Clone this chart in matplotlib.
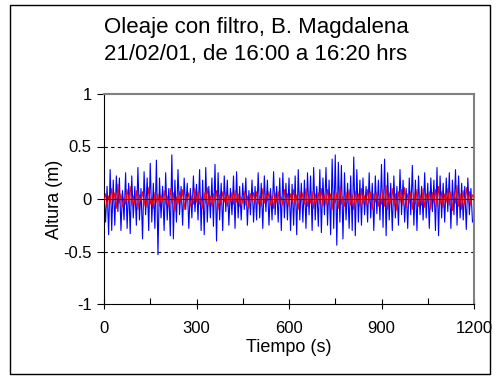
"""Oleaje con filtro, B. Magdalena - serie de tiempo de altura."""
import matplotlib
matplotlib.use("Agg")
import matplotlib.pyplot as plt
from matplotlib.patches import Rectangle
from matplotlib.ticker import MultipleLocator
import numpy as np

plt.rcParams["font.family"] = ["Liberation Sans", "DejaVu Sans"]

# tiempo de muestreo (s), cada 5 s
tiempo = np.arange(0, 1205, 5)

# altura sin filtro (m)
altura = [
    0.05, -0.22, 0.12, -0.34, 0.28, -0.30, 0.18, -0.25, 0.22, -0.12, 0.20, -0.30, 0.08, -0.20, 0.25, -0.28, 0.15, -0.33, 0.22, -0.18,
    0.12, -0.25, 0.30, -0.20, 0.10, -0.38, 0.26, -0.15, 0.20, -0.30, 0.34, -0.22, 0.15, -0.28, 0.37, -0.53, 0.20, -0.18, 0.12, -0.30,
    0.25, -0.20, 0.10, -0.35, 0.42, -0.38, 0.18, -0.22, 0.28, -0.15, 0.12, -0.25, 0.20, -0.10, 0.15, -0.28, 0.10, -0.18, 0.22, -0.12,
    0.14, -0.20, 0.28, -0.30, 0.18, -0.34, 0.30, -0.22, 0.12, -0.18, 0.20, -0.26, 0.33, -0.40, 0.25, -0.20, 0.15, -0.30, 0.22, -0.12,
    0.18, -0.25, 0.10, -0.15, 0.22, -0.28, 0.26, -0.18, 0.12, -0.20, 0.15, -0.10, 0.20, -0.25, 0.08, -0.15, 0.18, -0.22, 0.12, -0.20,
    0.25, -0.18, 0.15, -0.28, 0.22, -0.12, 0.18, -0.25, 0.10, -0.20, 0.26, -0.15, 0.12, -0.22, 0.20, -0.30, 0.25, -0.18, 0.15, -0.20,
    0.20, -0.30, 0.14, -0.25, 0.22, -0.34, 0.28, -0.20, 0.15, -0.22, 0.18, -0.28, 0.25, -0.15, 0.22, -0.30, 0.30, -0.20, 0.12, -0.26,
    0.28, -0.32, 0.20, -0.15, 0.30, -0.25, 0.18, -0.34, 0.38, -0.28, 0.42, -0.44, 0.35, -0.22, 0.32, -0.38, 0.25, -0.20, 0.15, -0.28,
    0.22, -0.30, 0.40, -0.35, 0.28, -0.22, 0.18, -0.25, 0.20, -0.15, 0.12, -0.22, 0.25, -0.18, 0.15, -0.30, 0.22, -0.14, 0.18, -0.20,
    0.33, -0.27, 0.38, -0.35, 0.25, -0.20, 0.15, -0.30, 0.22, -0.18, 0.12, -0.25, 0.28, -0.15, 0.18, -0.22, 0.10, -0.28, 0.20, -0.15,
    0.32, -0.25, 0.18, -0.30, 0.22, -0.15, 0.12, -0.20, 0.25, -0.18, 0.15, -0.28, 0.20, -0.12, 0.18, -0.30, 0.30, -0.35, 0.22, -0.18,
    0.15, -0.22, 0.20, -0.12, 0.25, -0.28, 0.18, -0.15, 0.28, -0.25, 0.22, -0.18, 0.15, -0.20, 0.12, -0.29, 0.20, -0.15, 0.10, -0.22,
    -0.18,
]

# altura filtrada (m)
filtrada = [
    -0.02, 0.05, -0.08, 0.03, -0.04, 0.10, -0.03, 0.06, -0.09, 0.14, -0.04, 0.05, -0.07, 0.02, -0.05, 0.09, -0.02, 0.12, -0.06, 0.03,
    -0.05, 0.08, -0.10, 0.04, -0.02, 0.07, -0.06, 0.03, -0.08, 0.11, -0.05, 0.02, -0.09, 0.06, -0.03, 0.05, -0.07, 0.04, -0.02, 0.08,
    -0.05, 0.03, -0.07, 0.10, -0.04, 0.06, -0.12, 0.02, -0.05, 0.07, -0.03, 0.09, -0.10, 0.04, -0.02, 0.06, -0.07, 0.03, -0.05, 0.10,
    -0.03, 0.07, -0.05, 0.02, -0.09, 0.06, -0.04, 0.11, -0.06, 0.03, -0.07, 0.05, -0.02, 0.08, -0.10, 0.04, -0.05, 0.07, -0.03, 0.06,
    -0.07, 0.04, -0.02, 0.06, -0.05, 0.08, -0.03, 0.05, -0.07, 0.02, -0.04, 0.07, -0.06, 0.03, -0.09, 0.05, -0.02, 0.06, -0.04, 0.07,
    -0.05, 0.03, -0.07, 0.10, -0.04, 0.05, -0.02, 0.07, -0.06, 0.04, -0.09, 0.06, -0.03, 0.07, -0.05, 0.02, -0.06, 0.09, -0.04, 0.05,
    -0.07, 0.05, -0.03, 0.09, -0.06, 0.04, -0.10, 0.07, -0.02, 0.06, -0.05, 0.10, -0.07, 0.03, -0.04, 0.07, -0.09, 0.05, -0.03, 0.06,
    -0.05, 0.10, -0.07, 0.04, -0.06, 0.09, -0.03, 0.05, -0.10, 0.07, -0.04, 0.06, -0.09, 0.12, -0.05, 0.03, -0.07, 0.06, -0.04, 0.09,
    -0.06, 0.04, -0.10, 0.07, -0.03, 0.05, -0.07, 0.10, -0.05, 0.03, -0.06, 0.09, -0.04, 0.07, -0.10, 0.05, -0.03, 0.06, -0.07, 0.04,
    -0.05, 0.09, -0.07, 0.13, -0.10, 0.06, -0.04, 0.10, -0.07, 0.05, -0.11, 0.07, -0.03, 0.09, -0.06, 0.11, -0.08, 0.05, -0.04, 0.07,
    -0.10, 0.06, -0.05, 0.09, -0.07, 0.04, -0.06, 0.10, -0.08, 0.05, -0.03, 0.07, -0.10, 0.06, -0.04, 0.09, -0.07, 0.12, -0.05, 0.07,
    -0.08, 0.05, -0.03, 0.10, -0.06, 0.07, -0.11, 0.06, -0.04, 0.13, -0.07, 0.05, -0.10, 0.08, -0.05, 0.11, -0.03, 0.07, -0.06, 0.04,
    0.02,
]

x_ticks = [0, 300, 600, 900, 1200]
y_ticks = [-1, -0.5, 0, 0.5, 1]
y_labels = ["-1", "-0.5", "0", "0.5", "1"]

fig = plt.figure(figsize=(4.96, 3.77), dpi=100)
ax = fig.add_axes([104 / 496, 1 - 304 / 377, 370 / 496, 210 / 377])

# marco exterior
fig.patches.append(Rectangle((10 / 496, 3 / 377), 480 / 496, 369 / 377,
                             transform=fig.transFigure, fill=False, ec="black", lw=1.0))

for yv in (0.5, -0.5):
    ax.axhline(yv, color="black", lw=0.8, ls=(0, (3, 3)), zorder=1)

ax.plot(tiempo, altura, color="#0000ff", lw=0.8, zorder=2)
ax.plot(tiempo, filtrada, color="#ff0000", lw=0.7, zorder=3)
ax.axhline(0, color="#202020", lw=0.8, zorder=4)

ax.set_xlim(0, 1200)
ax.set_ylim(-1, 1)
ax.set_xticks(x_ticks)
ax.xaxis.set_minor_locator(MultipleLocator(150))
ax.set_yticks(y_ticks)
ax.set_yticklabels(y_labels)

ax.tick_params(axis="x", which="major", direction="inout", length=7, width=0.8, labelsize=12, pad=9)
ax.tick_params(axis="x", which="minor", direction="in", length=4, width=0.8)
ax.tick_params(axis="y", which="major", direction="out", length=5, width=0.8, labelsize=12, pad=4)

for s in ("left", "bottom"):
    ax.spines[s].set_color("black")
    ax.spines[s].set_linewidth(0.8)
for s in ("top", "right"):
    ax.spines[s].set_color("#808080")
    ax.spines[s].set_linewidth(1.5)

ax.set_xlabel("Tiempo (s)", fontsize=13, labelpad=2)
ax.set_ylabel("Altura (m)", fontsize=13, labelpad=0)

fig.text(256 / 496, 1 - 41 / 377, "Oleaje con filtro, B. Magdalena\n21/02/01, de 16:00 a 16:20 hrs",
         ha="center", va="center", fontsize=16, linespacing=1.35)

fig.savefig("out.png", dpi=100)
